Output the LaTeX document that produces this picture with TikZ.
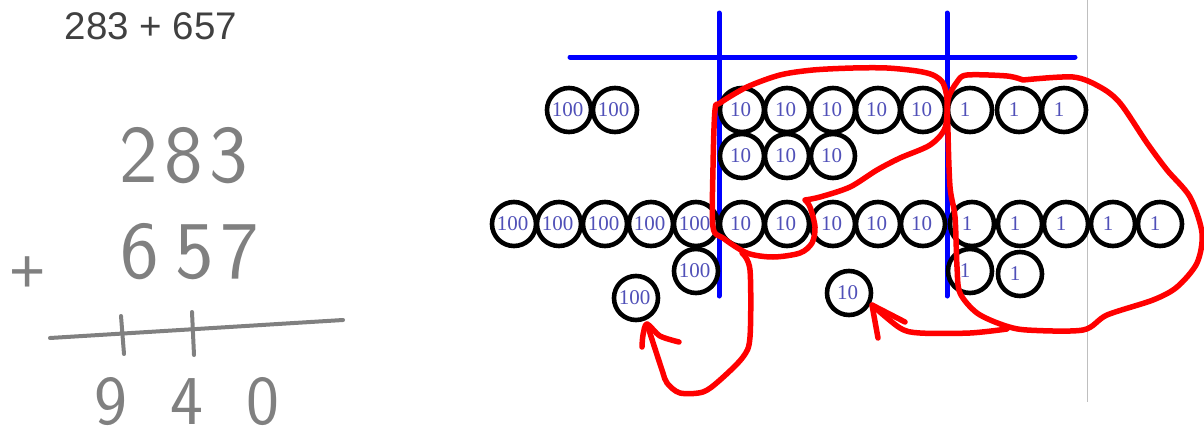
\documentclass[tikz,border=0pt]{standalone}
\usepackage{fontspec}
\setmainfont{Liberation Sans}
\newfontfamily\coinfont{Liberation Serif}
\definecolor{coinblue}{HTML}{5050B8}
\definecolor{linegray}{HTML}{808080}
\begin{document}
	\begin{tikzpicture}[x=1pt,y=-1pt]
		\tikzset{vertex/.style = {shape=circle,draw=black,line width=4.6pt,minimum size=44pt,inner sep=0pt,outer sep=0pt,text=coinblue,font=\coinfont\fontsize{21}{21}\selectfont,execute at end node={\kern3pt}}}
		\tikzset{unit/.style = {vertex,execute at end node={\kern7pt}}}
		\tikzset{hand/.style = {text=linegray,inner sep=0pt,font=\sffamily\fontsize{82}{82}\selectfont}}
		\tikzset{bluerule/.style = {draw=blue,line width=5pt,line cap=round}}
		\tikzset{redpen/.style = {draw=red,line width=5.5pt,line cap=round,line join=round}}
		\tikzset{pencil/.style = {draw=linegray,line width=4pt,line cap=round}}
		\useasboundingbox (0,0) rectangle (1204,442);

		\node[text=black!75,inner sep=0pt,font=\fontsize{38.5}{38.5}\selectfont] (sum) at (151,26) {283 + 657};
		\node[hand] (top) at (184,156) {2\hspace{0.08em}8\hspace{0.08em}3};
		\node[hand] (bottom) at (190,252) {6\hspace{0.2em}5\hspace{0.08em}7};
		\node[hand,font=\fontsize{62}{62}\selectfont] (plus) at (28,275) {+};
		\node[hand,font=\sffamily\fontsize{70}{70}\selectfont] (total) at (187,402) {9\hspace{0.62em}4\hspace{0.62em}0};

		\coordinate (bar_l) at (50,338);
		\coordinate (bar_r) at (343,320);
		\coordinate (tick_1t) at (121,316);
		\coordinate (tick_1b) at (124,354);
		\coordinate (tick_2t) at (192,312);
		\coordinate (tick_2b) at (194,355);
		\draw[pencil] (bar_l)--(bar_r);
		\draw[pencil] (tick_1t)--(tick_1b);
		\draw[pencil] (tick_2t)--(tick_2b);

		\coordinate (edge_t) at (1087,0);
		\coordinate (edge_b) at (1087,402);
		\draw[black!25,line width=1pt] (edge_t)--(edge_b);

		\coordinate (rule_l) at (570,57);
		\coordinate (rule_r) at (1075,57);
		\coordinate (col_1t) at (719,13);
		\coordinate (col_1b) at (719,296);
		\coordinate (col_2t) at (947,13);
		\coordinate (col_2b) at (947,296);
		\draw[bluerule] (rule_l)--(rule_r);
		\draw[bluerule] (col_1t)--(col_1b);
		\draw[bluerule] (col_2t)--(col_2b);

		\node[vertex] (H_1) at (569,110) {100};
		\node[vertex] (H_2) at (615,110) {100};

		\node[vertex] (T_1) at (742,110) {10};
		\node[vertex] (T_2) at (787,110) {10};
		\node[vertex] (T_3) at (833,110) {10};
		\node[vertex] (T_4) at (878,110) {10};
		\node[vertex] (T_5) at (923,110) {10};
		\node[vertex] (T_6) at (742,156) {10};
		\node[vertex] (T_7) at (787,156) {10};
		\node[vertex] (T_8) at (833,156) {10};

		\node[unit] (O_1) at (970,110) {1};
		\node[unit] (O_2) at (1019,110) {1};
		\node[unit] (O_3) at (1064,110) {1};

		\node[vertex] (H_3) at (514,224) {100};
		\node[vertex] (H_4) at (559,224) {100};
		\node[vertex] (H_5) at (605,224) {100};
		\node[vertex] (H_6) at (651,224) {100};
		\node[vertex] (H_7) at (696,224) {100};
		\node[vertex] (H_8) at (696,271) {100};
		\node[vertex] (H_9) at (636,298) {100};

		\node[vertex] (T_9) at (742,224) {10};
		\node[vertex] (T_10) at (787,224) {10};
		\node[vertex] (T_11) at (833,224) {10};
		\node[vertex] (T_12) at (878,224) {10};
		\node[vertex] (T_13) at (923,224) {10};
		\node[vertex] (T_14) at (849,293) {10};

		\node[unit] (O_4) at (972,224) {1};
		\node[unit] (O_5) at (1020,224) {1};
		\node[unit] (O_6) at (1066,224) {1};
		\node[unit] (O_7) at (1113,224) {1};
		\node[unit] (O_8) at (1160,224) {1};
		\node[unit] (O_9) at (970,271) {1};
		\node[unit] (O_10) at (1020,274) {1};

		\draw[redpen] plot[smooth,tension=0.5] coordinates {(805,200) (820,197) (850,187) (877,170) (900,158) (930,145) (945,128) (947,100) (943,83) (933,75) (917,71) (887,68) (853,68) (813,70) (780,75) (747,87) (720,103) (715,110) (713,167) (713,227) (723,238) (747,253) (773,257) (800,253) (812,243) (815,227) (810,207) (805,200)};
		\draw[redpen] plot[smooth,tension=0.5] coordinates {(1023,80) (1007,76) (967,75) (957,82) (948,100) (948,133) (950,187) (955,217) (957,267) (960,293) (977,313) (1003,325) (1027,330) (1083,330) (1107,315) (1153,300) (1177,287) (1197,263) (1202,233) (1190,197) (1167,170) (1147,143) (1120,103) (1100,87) (1073,77) (1023,80)};

		\coordinate (carry_1) at (742,253);
		\coordinate (carry_2) at (1007,329);
		\coordinate (tip_1) at (647,324);
		\coordinate (tip_2) at (872,305);
		\draw[redpen] plot[smooth,tension=0.5] coordinates {(carry_1) (750,270) (750,337) (743,357) (720,380) (703,392) (680,393) (667,383) (662,370) (tip_1)};
		\draw[redpen] plot[smooth,tension=0.5] coordinates {(642,347) (643,335) (tip_1) (660,336) (679,342)};
		\draw[redpen] plot[smooth,tension=0.5] coordinates {(carry_2) (970,333) (920,333) (900,328) (tip_2)};
		\draw[redpen] (878,338)--(tip_2)--(905,322);

	\end{tikzpicture}
\end{document}
